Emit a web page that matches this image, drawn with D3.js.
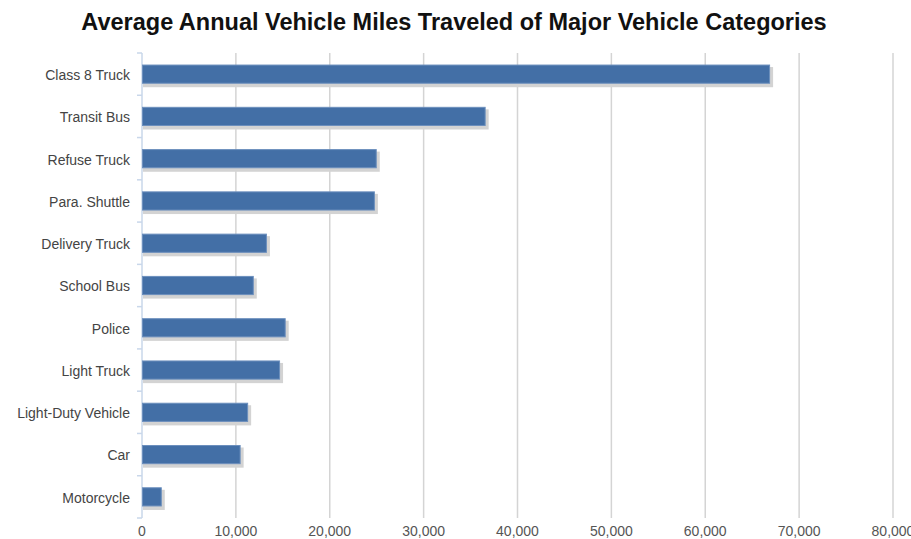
<!DOCTYPE html>
<html>
<head>
<meta charset="utf-8">
<script src="https://cdn.jsdelivr.net/npm/d3@7"></script>
<style>
body { margin: 0; background: #fff; }
text { font-family: "Liberation Sans", Arial, sans-serif; }
</style>
</head>
<body>
<svg id="vis-svg" width="911" height="539"></svg>
<script>
// data
var categories = ['Class 8 Truck', 'Transit Bus', 'Refuse Truck', 'Para. Shuttle', 'Delivery Truck',
  'School Bus', 'Police', 'Light Truck', 'Light-Duty Vehicle', 'Car', 'Motorcycle'];
var miles = [66800, 36500, 24900, 24700, 13200, 11800, 15200, 14600, 11200, 10400, 2000];
var xTicks = [0, 10000, 20000, 30000, 40000, 50000, 60000, 70000, 80000];
var title = 'Average Annual Vehicle Miles Traveled of Major Vehicle Categories';

var data = categories.map(function(c, i) { return {name: c, value: miles[i]}; });

var margin = {top: 53, left: 142, right: 18, bottom: 21};
var width = 911, height = 539;

var svg = d3.select('#vis-svg');

// title
svg.append('text')
  .attr('x', 454)
  .attr('y', 30)
  .attr('text-anchor', 'middle')
  .style('font-size', '23.5px')
  .style('font-weight', 'bold')
  .attr('fill', '#111')
  .text(title);

var g = svg.append('g')
  .attr('transform', 'translate(' + margin.left + ',' + margin.top + ')');

var innerW = 893 - margin.left;
var innerH = 518 - margin.top;

var x = d3.scaleLinear().domain([0, 80000]).range([0, innerW]);
var y = d3.scaleBand().domain(categories).range([0, innerH]).paddingInner(0.57).paddingOuter(0.285);

// grid lines
g.selectAll('.grid')
  .data(xTicks.slice(1))
  .enter().append('line')
  .attr('x1', function(d) { return x(d); })
  .attr('x2', function(d) { return x(d); })
  .attr('y1', 0)
  .attr('y2', innerH)
  .attr('stroke', '#d4d4d4')
  .attr('stroke-width', 1.5);

// x tick labels
g.selectAll('.xlab')
  .data(xTicks)
  .enter().append('text')
  .attr('x', function(d) { return x(d); })
  .attr('y', innerH + 18)
  .attr('text-anchor', 'middle')
  .style('font-size', '14px')
  .attr('fill', '#555')
  .text(function(d) { return d3.format(',')(d); });

// left axis line
g.append('line')
  .attr('x1', 0).attr('x2', 0)
  .attr('y1', 0).attr('y2', innerH)
  .attr('stroke', '#c9d7ea')
  .attr('stroke-width', 1.5);

// small ticks between categories
var step = y.step();
g.selectAll('.ytick')
  .data(d3.range(categories.length + 1))
  .enter().append('line')
  .attr('x1', -5).attr('x2', 0)
  .attr('y1', function(i) { return i * step; })
  .attr('y2', function(i) { return i * step; })
  .attr('stroke', '#c9d7ea')
  .attr('stroke-width', 1.5);

// category labels
g.selectAll('.ylab')
  .data(categories)
  .enter().append('text')
  .attr('x', -12)
  .attr('y', function(d) { return y(d) + y.bandwidth() / 2 + 1; })
  .attr('dy', '0.35em')
  .attr('text-anchor', 'end')
  .style('font-size', '14px')
  .attr('fill', '#444')
  .text(function(d) { return d; });

// shadows
g.selectAll('.shadow')
  .data(data)
  .enter().append('rect')
  .attr('x', 1)
  .attr('y', function(d) { return y(d.name) + 2; })
  .attr('width', function(d) { return x(d.value) + 3; })
  .attr('height', y.bandwidth() + 2)
  .attr('fill', '#d3d3d3');

// bars
g.selectAll('.bar')
  .data(data)
  .enter().append('rect')
  .attr('x', 0.5)
  .attr('y', function(d) { return y(d.name); })
  .attr('width', function(d) { return x(d.value); })
  .attr('height', y.bandwidth())
  .attr('fill', '#436fa6')
  .attr('stroke', '#6c8fbd')
  .attr('stroke-width', 1);
</script>
</body>
</html>
